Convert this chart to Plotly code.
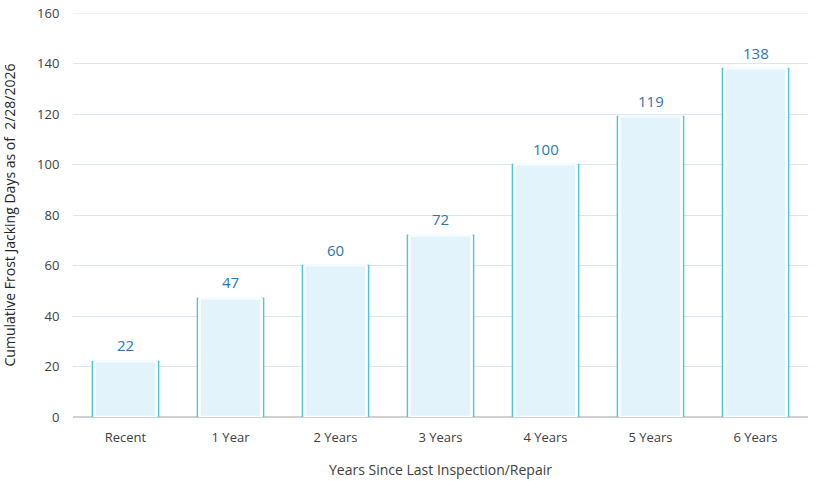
import plotly.graph_objects as go

categories = ["Recent", "1 Year", "2 Years", "3 Years", "4 Years", "5 Years", "6 Years"]
values = [22, 47, 60, 72, 100, 119, 138]
y_ticks = [0, 20, 40, 60, 80, 100, 120, 140, 160]

font_family = "Open Sans, Noto Sans, sans-serif"

fig = go.Figure()
fig.add_trace(go.Bar(
    x=categories, y=values, width=0.63,
    marker=dict(color="#e2f3fb", line=dict(color="#4cc6de", width=1.5)),
    showlegend=False, hoverinfo="skip",
))
# inner highlight to suggest bevel
fig.add_trace(go.Bar(
    x=categories, y=values, width=0.59,
    marker=dict(color="rgba(0,0,0,0)", line=dict(color="rgba(255,255,255,0.95)", width=2.5)),
    showlegend=False, hoverinfo="skip",
))

annotations = [
    dict(x=c, y=v, text=str(v), showarrow=False, yanchor="bottom", yshift=4,
         font=dict(color="#2e75b6", size=15, family=font_family))
    for c, v in zip(categories, values)
]

fig.update_layout(
    width=816, height=481,
    margin=dict(l=73, r=8, t=13, b=64, autoexpand=False),
    paper_bgcolor="white", plot_bgcolor="white",
    barmode="overlay",
    annotations=annotations,
    shapes=[dict(type="line", xref="paper", x0=0, x1=1, yref="y", y0=y_ticks[-1], y1=y_ticks[-1],
                 line=dict(color="#dce6f2", width=1), layer="below")],
    font=dict(family=font_family, color="#404040", size=13),
    xaxis=dict(
        title=dict(text="Years Since Last Inspection/Repair", font=dict(size=14, color="#404040"), standoff=20),
        showgrid=False, showline=False, ticks="outside", ticklen=8, tickcolor="rgba(0,0,0,0)",
        tickfont=dict(size=13, color="#404040"), automargin=False,
    ),
    yaxis=dict(
        title=dict(text="Cumulative Frost Jacking Days as of  2/28/2026", font=dict(size=14, color="#262626"), standoff=18),
        range=[0, 160], tickvals=y_ticks, showgrid=True, gridcolor="#dce6f2", gridwidth=1,
        zeroline=True, zerolinecolor="#d0d0d0", zerolinewidth=2,
        tickfont=dict(size=13, color="#404040"), ticks="outside", ticklen=10, tickcolor="rgba(0,0,0,0)",
        automargin=False,
    ),
)

fig.write_html("out.html", config={"displayModeBar": False},
               post_script="document.body.style.margin='0';")
